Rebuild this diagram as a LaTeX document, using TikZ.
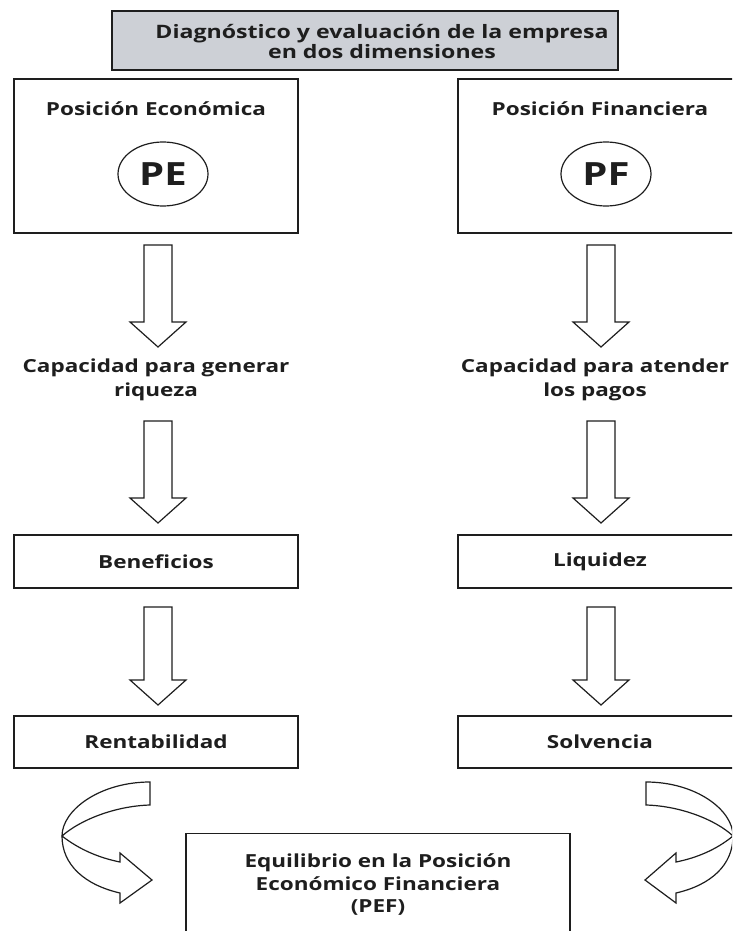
\documentclass[tikz,border=0pt]{standalone}
\usepackage{fontspec}
\setmainfont{Open Sans}[FakeStretch=1.25]
\usetikzlibrary{calc,shapes.geometric}
\definecolor{titlegray}{RGB}{205,208,214}
\definecolor{ink}{RGB}{30,30,30}
\tikzset{
  box/.style={draw=ink, line width=1.2pt, minimum width=284pt, inner sep=0pt,
    font=\bfseries\fontsize{18}{22}\selectfont, text=ink, align=center},
  lbl/.style={font=\bfseries\fontsize{18}{22}\selectfont, text=ink, align=center, inner sep=0pt},
  blk/.style={draw=ink, line width=1.2pt, fill=white, line join=miter},
  oval/.style={draw=ink, line width=1.2pt, ellipse, minimum width=90pt, minimum height=64pt,
    inner sep=0pt, font=\bfseries\fontsize{32}{32}\selectfont, text=ink},
}
\newcommand\blockarrow[2]{%
  \draw[blk] let \p1=(#1), \p2=(#2) in
    (\x1-14pt,\y1) -- (\x1+14pt,\y1) -- (\x1+14pt,\y2+25pt) -- (\x1+28pt,\y2+25pt)
    -- (\x2,\y2) -- (\x1-28pt,\y2+25pt) -- (\x1-14pt,\y2+25pt) -- cycle;}
\begin{document}
\begin{tikzpicture}[x=1pt,y=-1pt]
\clip (0,0) rectangle (732,931);
\fill[white] (0,0) rectangle (732,931);
% title
\node[box, fill=titlegray, minimum width=506pt, minimum height=59pt] (title) at (365,40.5) {};
\node[lbl, font=\bfseries\fontsize{18.5}{20}\selectfont] (titletxt) at (382,42) {Diagnóstico y evaluación de la empresa\\en dos dimensiones};
% top boxes
\node[box, minimum height=154pt] (pebox) at (156,156) {};
\node[lbl] (petitle) at (156,109) {Posición Económica};
\node[oval] (pe) at (163,174) {PE};
\node[box, minimum height=154pt] (pfbox) at (600,156) {};
\node[lbl] (pftitle) at (600,109) {Posición Financiera};
\node[oval] (pf) at (606,174) {PF};
% capacity texts
\node[lbl, font=\bfseries\fontsize{18}{24}\selectfont] (capl) at (156,380) {Capacidad para generar\\riqueza};
\node[lbl, font=\bfseries\fontsize{18}{24}\selectfont] (capr) at (595,380) {Capacidad para atender\\los pagos};
% middle boxes
\node[box, minimum height=53pt] (benef) at (156,561.5) {Beneficios};
\node[box, minimum height=53pt] (liq) at (600,561.5) {Liquidez};
\node[box, minimum height=52pt] (rent) at (156,742) {Rentabilidad};
\node[box, minimum height=52pt] (solv) at (600,742) {Solvencia};
% bottom box
\node[box, minimum width=384pt, minimum height=140pt, anchor=north] (pef) at (378,833) {};
\node[lbl, font=\bfseries\fontsize{18}{22.5}\selectfont] (peftxt) at (378,885) {Equilibrio en la Posición\\Económico Financiera\\(PEF)};
% block arrow end points
\coordinate (l1a) at (158,245); \coordinate (l1b) at (158,347);
\coordinate (l2a) at (158,421); \coordinate (l2b) at (158,523);
\coordinate (l3a) at (158,607); \coordinate (l3b) at (158,705);
\coordinate (r1a) at (601,245); \coordinate (r1b) at (601,347);
\coordinate (r2a) at (601,421); \coordinate (r2b) at (601,523);
\coordinate (r3a) at (601,607); \coordinate (r3b) at (601,705);
\blockarrow{l1a}{l1b}
\blockarrow{l2a}{l2b}
\blockarrow{l3a}{l3b}
\blockarrow{r1a}{r1b}
\blockarrow{r2a}{r2b}
\blockarrow{r3a}{r3b}
% curved arrows
\draw[blk] (150,782) -- (150,805) .. controls (115,806) and (80,820) .. (62,836)
  .. controls (80,850) and (100,858) .. (120,862) -- (120,853) -- (152,880) -- (120,903) -- (120,893)
  .. controls (85,885) and (62,865) .. (62,836)
  .. controls (62,810) and (100,782) .. (150,782) -- cycle;
\draw[blk] (646,782) -- (646,805) .. controls (681,806) and (716,820) .. (733,836)
  .. controls (716,850) and (696,858) .. (676,862) -- (676,853) -- (645,880) -- (676,903) -- (676,893)
  .. controls (711,885) and (733,865) .. (733,836)
  .. controls (733,810) and (696,782) .. (646,782) -- cycle;
\end{tikzpicture}
\end{document}
